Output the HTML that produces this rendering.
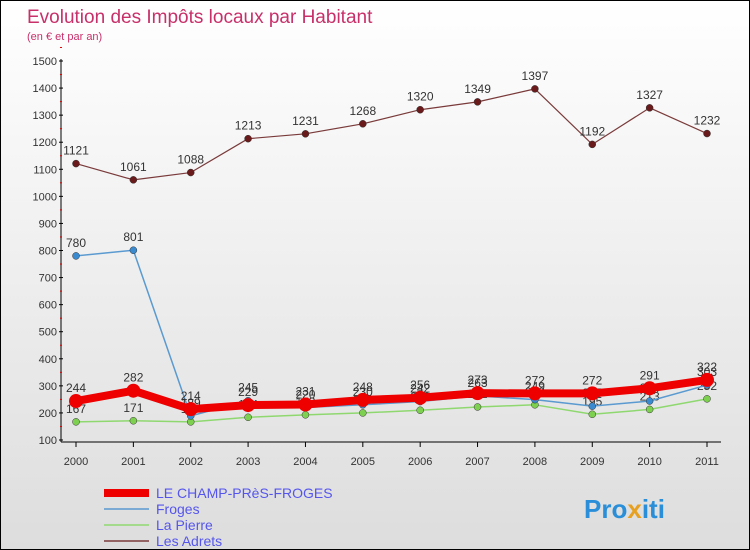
<!DOCTYPE html>
<html><head><meta charset="utf-8"><style>
body{margin:0}
#c{width:750px;height:550px;position:relative;font-family:"Liberation Sans",sans-serif;background:linear-gradient(#fff,#ddd);border:1px solid #000;box-sizing:border-box;overflow:hidden}
</style></head><body>
<div id="c">
<svg id="s" width="750" height="550" style="position:absolute;left:0;top:0">
<text x="26" y="22" font-size="19" fill="#c8306a">Evolution des Impôts locaux par Habitant</text>
<text x="26" y="39" font-size="11" fill="#c8306a">(en € et par an)</text>
<g id="axes"></g><g id="series"></g>
<g>
<line x1="103" y1="492" x2="148" y2="492" stroke="#e00" stroke-width="8"/>
<text x="155" y="497" font-size="14" fill="#5555ee">LE CHAMP-PRèS-FROGES</text>
<line x1="103" y1="508" x2="148" y2="508" stroke="#5a9ad0" stroke-width="1.5"/>
<text x="155" y="513" font-size="14" fill="#5555ee">Froges</text>
<line x1="103" y1="524" x2="148" y2="524" stroke="#8fd870" stroke-width="1.5"/>
<text x="155" y="529" font-size="14" fill="#5555ee">La Pierre</text>
<line x1="103" y1="540" x2="148" y2="540" stroke="#7a3a3a" stroke-width="1.5"/>
<text x="155" y="545" font-size="14" fill="#5555ee">Les Adrets</text>
</g>
<text x="583" y="517" font-size="26" font-weight="bold" fill="#2a8fd8">Pro<tspan fill="#e8a020">x</tspan>iti</text>
</svg>
</div>
<script>
const years=["2000","2001","2002","2003","2004","2005","2006","2007","2008","2009","2010","2011"];
const yTicks=[100,200,300,400,500,600,700,800,900,1000,1100,1200,1300,1400,1500];
const champ=[244,282,214,229,231,248,256,273,272,272,291,322];
const froges=[780,801,189,245,220,230,242,263,249,225,244,303];
const pierre=[167,171,167,184,193,200,210,222,230,195,213,252];
const adrets=[1121,1061,1088,1213,1231,1268,1320,1349,1397,1192,1327,1232];
const NS="http://www.w3.org/2000/svg";
const X=i=>75+i*(706-75)/11;
const Y=v=>439-(v-100)*(439-60)/1400;
function mk(t,a,p){const e=document.createElementNS(NS,t);for(const k in a)e.setAttribute(k,a[k]);p.appendChild(e);return e;}
const ax=document.getElementById('axes');
const yl=mk('line',{x1:60,y1:58,x2:60,y2:441,stroke:'#000'},ax);


const xl=mk('line',{x1:60,y1:441,x2:720,y2:441,stroke:'#000'},ax);


yTicks.forEach(v=>{
 const t=mk('text',{x:56,y:Y(v)+4,'font-size':11,fill:'#333','text-anchor':'end'},ax);t.textContent=v;
 
 
 mk('line',{x1:58,y1:Y(v),x2:62,y2:Y(v),stroke:'#000'},ax);
 mk('line',{x1:59,y1:Y(v+50),x2:61,y2:Y(v+50),stroke:'#d00'},ax);
});
years.forEach((y,i)=>{
 mk('line',{x1:X(i),y1:441,x2:X(i),y2:446,stroke:'#000'},ax);
 const t=mk('text',{x:X(i),y:464,'font-size':11,fill:'#333','text-anchor':'middle'},ax);t.textContent=y;
 
 
});
const sg=document.getElementById('series');
function series(d,col,w,r,name,fill){
 const g=mk('g',{},sg);
 
 
 mk('polyline',{points:d.map((v,i)=>X(i)+','+Y(v)).join(' '),fill:'none',stroke:col,'stroke-width':w,'stroke-linejoin':'round'},g);
 d.forEach((v,i)=>{
  const c=mk('circle',{cx:X(i),cy:Y(v),r:r,fill:fill,stroke:fill==col?'none':'#333','stroke-width':0.5},g);
  
  
  const t=mk('text',{x:X(i),y:Y(v)-9,'font-size':12,fill:'#333','text-anchor':'middle'},g);t.textContent=v;
  
  
 });
}
series(pierre,'#8fd870',1.5,3.5,'la-pierre-series','#7ed050');
series(froges,'#5a9ad0',1.5,3.5,'froges-series','#3a8ad0');
series(champ,'#e00',8,7,'champ-series','#e00');
series(adrets,'#7a3a3a',1.2,3.5,'les-adrets-series','#6a1a1a');
</script>
</body></html>
